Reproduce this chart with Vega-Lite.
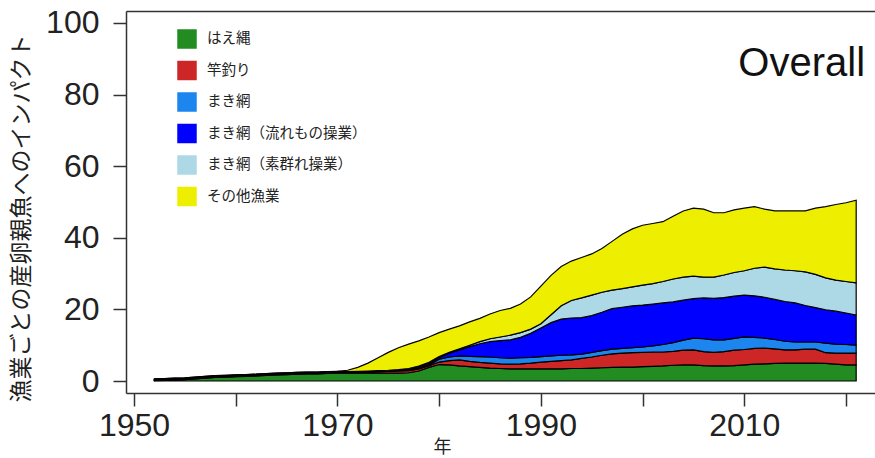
{
  "$schema": "https://vega.github.io/schema/vega-lite/v6.json",
  "width": 749,
  "height": 382,
  "autosize": "none",
  "padding": {"left": 126, "top": 11, "right": 0, "bottom": 65},
  "config": {"view": {"stroke": null}, "font": "Liberation Sans"},
  "resolve": {"axis": {"x": "independent"}},
  "layer": [
    {
      "data": {
        "values": [
          {"year": 1952, "g": 0.1, "r": 0.1, "m": 0.1, "d": 0.15, "l": 0.15, "y": 0},
          {"year": 1953, "g": 0.2, "r": 0.1, "m": 0.1, "d": 0.15, "l": 0.15, "y": 0},
          {"year": 1954, "g": 0.3, "r": 0.1, "m": 0.1, "d": 0.15, "l": 0.15, "y": 0},
          {"year": 1955, "g": 0.4, "r": 0.1, "m": 0.1, "d": 0.15, "l": 0.15, "y": 0},
          {"year": 1956, "g": 0.6, "r": 0.1, "m": 0.1, "d": 0.15, "l": 0.15, "y": 0},
          {"year": 1957, "g": 0.8, "r": 0.1, "m": 0.1, "d": 0.15, "l": 0.15, "y": 0},
          {"year": 1958, "g": 1.0, "r": 0.1, "m": 0.1, "d": 0.15, "l": 0.15, "y": 0},
          {"year": 1959, "g": 1.1, "r": 0.1, "m": 0.1, "d": 0.15, "l": 0.15, "y": 0},
          {"year": 1960, "g": 1.2, "r": 0.1, "m": 0.1, "d": 0.15, "l": 0.15, "y": 0},
          {"year": 1961, "g": 1.3, "r": 0.1, "m": 0.1, "d": 0.15, "l": 0.15, "y": 0},
          {"year": 1962, "g": 1.4, "r": 0.1, "m": 0.1, "d": 0.15, "l": 0.15, "y": 0},
          {"year": 1963, "g": 1.6, "r": 0.1, "m": 0.1, "d": 0.15, "l": 0.15, "y": 0},
          {"year": 1964, "g": 1.7, "r": 0.1, "m": 0.1, "d": 0.15, "l": 0.15, "y": 0},
          {"year": 1965, "g": 1.8, "r": 0.1, "m": 0.1, "d": 0.15, "l": 0.15, "y": 0},
          {"year": 1966, "g": 1.9, "r": 0.1, "m": 0.1, "d": 0.15, "l": 0.15, "y": 0},
          {"year": 1967, "g": 2.0, "r": 0.1, "m": 0.1, "d": 0.15, "l": 0.15, "y": 0},
          {"year": 1968, "g": 2.0, "r": 0.1, "m": 0.1, "d": 0.15, "l": 0.15, "y": 0},
          {"year": 1969, "g": 2.1, "r": 0.1, "m": 0.1, "d": 0.15, "l": 0.15, "y": 0},
          {"year": 1970, "g": 2.2, "r": 0.1, "m": 0.1, "d": 0.15, "l": 0.15, "y": 0},
          {"year": 1971, "g": 2.2, "r": 0.1, "m": 0.1, "d": 0.1, "l": 0.1, "y": 0.4},
          {"year": 1972, "g": 2.2, "r": 0.2, "m": 0.1, "d": 0.1, "l": 0.1, "y": 1.1},
          {"year": 1973, "g": 2.2, "r": 0.3, "m": 0.1, "d": 0.1, "l": 0.1, "y": 2.2},
          {"year": 1974, "g": 2.2, "r": 0.4, "m": 0.1, "d": 0.1, "l": 0.1, "y": 3.6},
          {"year": 1975, "g": 2.2, "r": 0.5, "m": 0.1, "d": 0.1, "l": 0.1, "y": 5.0},
          {"year": 1976, "g": 2.2, "r": 0.6, "m": 0.1, "d": 0.2, "l": 0.1, "y": 6.1},
          {"year": 1977, "g": 2.3, "r": 0.6, "m": 0.2, "d": 0.3, "l": 0.1, "y": 6.8},
          {"year": 1978, "g": 2.8, "r": 0.6, "m": 0.2, "d": 0.4, "l": 0.2, "y": 7.0},
          {"year": 1979, "g": 3.8, "r": 0.5, "m": 0.2, "d": 0.5, "l": 0.2, "y": 7.1},
          {"year": 1980, "g": 4.6, "r": 0.7, "m": 0.8, "d": 0.5, "l": 0.2, "y": 6.7},
          {"year": 1981, "g": 4.5, "r": 1.2, "m": 1.0, "d": 1.1, "l": 0.2, "y": 6.5},
          {"year": 1982, "g": 4.2, "r": 1.7, "m": 1.1, "d": 1.7, "l": 0.3, "y": 6.4},
          {"year": 1983, "g": 4.0, "r": 1.5, "m": 1.4, "d": 2.7, "l": 0.4, "y": 6.5},
          {"year": 1984, "g": 3.8, "r": 1.4, "m": 1.6, "d": 3.6, "l": 0.6, "y": 6.5},
          {"year": 1985, "g": 3.6, "r": 1.4, "m": 1.7, "d": 4.3, "l": 0.8, "y": 6.9},
          {"year": 1986, "g": 3.5, "r": 1.3, "m": 1.7, "d": 4.8, "l": 1.0, "y": 7.4},
          {"year": 1987, "g": 3.4, "r": 1.3, "m": 1.7, "d": 5.1, "l": 1.3, "y": 7.5},
          {"year": 1988, "g": 3.4, "r": 1.4, "m": 1.7, "d": 5.7, "l": 1.3, "y": 8.0},
          {"year": 1989, "g": 3.4, "r": 1.6, "m": 1.6, "d": 6.7, "l": 1.2, "y": 9.0},
          {"year": 1990, "g": 3.4, "r": 1.9, "m": 1.5, "d": 8.0, "l": 1.2, "y": 10.5},
          {"year": 1991, "g": 3.4, "r": 2.1, "m": 1.5, "d": 9.3, "l": 2.2, "y": 11.0},
          {"year": 1992, "g": 3.4, "r": 2.3, "m": 1.5, "d": 10.1, "l": 3.7, "y": 11.0},
          {"year": 1993, "g": 3.5, "r": 2.4, "m": 1.4, "d": 10.3, "l": 4.9, "y": 11.0},
          {"year": 1994, "g": 3.5, "r": 2.8, "m": 1.2, "d": 10.2, "l": 5.5, "y": 11.3},
          {"year": 1995, "g": 3.6, "r": 3.1, "m": 1.3, "d": 10.3, "l": 5.7, "y": 11.5},
          {"year": 1996, "g": 3.7, "r": 3.5, "m": 1.3, "d": 10.7, "l": 5.6, "y": 12.2},
          {"year": 1997, "g": 3.8, "r": 3.8, "m": 1.3, "d": 11.3, "l": 5.2, "y": 13.6},
          {"year": 1998, "g": 3.9, "r": 3.9, "m": 1.3, "d": 11.5, "l": 5.2, "y": 15.2},
          {"year": 1999, "g": 3.9, "r": 4.0, "m": 1.4, "d": 11.7, "l": 5.3, "y": 16.2},
          {"year": 2000, "g": 4.0, "r": 4.0, "m": 1.5, "d": 11.7, "l": 5.6, "y": 16.7},
          {"year": 2001, "g": 4.1, "r": 4.0, "m": 1.7, "d": 11.7, "l": 5.7, "y": 16.8},
          {"year": 2002, "g": 4.2, "r": 3.9, "m": 2.1, "d": 11.6, "l": 6.0, "y": 16.7},
          {"year": 2003, "g": 4.4, "r": 3.9, "m": 2.4, "d": 11.4, "l": 6.4, "y": 17.5},
          {"year": 2004, "g": 4.5, "r": 4.1, "m": 2.8, "d": 11.2, "l": 6.4, "y": 18.5},
          {"year": 2005, "g": 4.5, "r": 4.2, "m": 3.3, "d": 11.0, "l": 6.3, "y": 19.0},
          {"year": 2006, "g": 4.3, "r": 3.9, "m": 3.6, "d": 11.4, "l": 5.8, "y": 19.0},
          {"year": 2007, "g": 4.2, "r": 3.8, "m": 3.5, "d": 11.6, "l": 5.9, "y": 18.0},
          {"year": 2008, "g": 4.2, "r": 4.0, "m": 3.3, "d": 11.8, "l": 6.3, "y": 17.4},
          {"year": 2009, "g": 4.3, "r": 4.3, "m": 3.3, "d": 11.8, "l": 6.6, "y": 17.5},
          {"year": 2010, "g": 4.5, "r": 4.3, "m": 3.5, "d": 11.7, "l": 6.8, "y": 17.5},
          {"year": 2011, "g": 4.7, "r": 4.4, "m": 3.1, "d": 11.6, "l": 7.7, "y": 17.2},
          {"year": 2012, "g": 4.8, "r": 4.4, "m": 2.8, "d": 11.4, "l": 8.4, "y": 16.2},
          {"year": 2013, "g": 4.9, "r": 4.1, "m": 2.6, "d": 11.2, "l": 8.5, "y": 16.2},
          {"year": 2014, "g": 5.0, "r": 3.7, "m": 2.4, "d": 11.1, "l": 8.8, "y": 16.5},
          {"year": 2015, "g": 5.0, "r": 3.7, "m": 2.2, "d": 10.9, "l": 9.0, "y": 16.7},
          {"year": 2016, "g": 5.0, "r": 3.9, "m": 2.0, "d": 10.2, "l": 9.4, "y": 17.0},
          {"year": 2017, "g": 5.0, "r": 3.9, "m": 2.0, "d": 9.6, "l": 9.3, "y": 18.5},
          {"year": 2018, "g": 4.9, "r": 3.0, "m": 2.7, "d": 9.3, "l": 8.9, "y": 19.9},
          {"year": 2019, "g": 4.7, "r": 3.1, "m": 2.5, "d": 9.2, "l": 8.7, "y": 21.1},
          {"year": 2020, "g": 4.5, "r": 3.3, "m": 2.4, "d": 8.8, "l": 8.8, "y": 22.0},
          {"year": 2021, "g": 4.5, "r": 3.3, "m": 2.2, "d": 8.4, "l": 9.0, "y": 23.1}
        ]
      },
      "transform": [
        {"fold": ["g", "r", "m", "d", "l", "y"], "as": ["key", "value"]},
        {
          "lookup": "key",
          "from": {
            "data": {
              "values": [
                {"key": "g", "label": "はえ縄", "rank": 1},
                {"key": "r", "label": "竿釣り", "rank": 2},
                {"key": "m", "label": "まき網", "rank": 3},
                {"key": "d", "label": "まき網（流れもの操業）", "rank": 4},
                {"key": "l", "label": "まき網（素群れ操業）", "rank": 5},
                {"key": "y", "label": "その他漁業", "rank": 6}
              ]
            },
            "key": "key",
            "fields": ["label", "rank"]
          }
        }
      ],
      "mark": {"type": "area", "interpolate": "linear", "stroke": "black", "strokeWidth": 1.2, "opacity": 1},
      "encoding": {
        "x": {
          "field": "year",
          "type": "quantitative",
          "scale": {"domain": [1949.213, 2022.85], "nice": false, "zero": false},
          "axis": {
            "values": [1950, 1960, 1970, 1980, 1990, 2000, 2010, 2020],
            "format": "d",
            "labelExpr": "datum.value % 20 == 10 ? datum.label : ''",
            "labelFlush": false,
            "labelOverlap": false,
            "labelFontSize": 32,
            "labelColor": "#222",
            "labelPadding": 4,
            "tickSize": 13,
            "tickWidth": 1.5,
            "tickColor": "#333",
            "domainColor": "#333",
            "domainWidth": 1.5,
            "grid": false,
            "title": "年",
            "titleFont": "Noto Sans CJK JP",
            "titleFontSize": 18,
            "titleFontWeight": "normal",
            "titleColor": "#222",
            "titleX": 316,
            "titleY": 45,
            "titleBaseline": "top"
          }
        },
        "y": {
          "field": "value",
          "type": "quantitative",
          "stack": "zero",
          "title": "漁業ごとの産卵親魚へのインパクト",
          "scale": {"domain": [-3.35, 103.35], "nice": false, "zero": false},
          "axis": {
            "values": [0, 20, 40, 60, 80, 100],
            "labelFlush": false,
            "labelOverlap": false,
            "labelFontSize": 32,
            "labelColor": "#222",
            "labelPadding": 14,
            "tickSize": 13,
            "tickWidth": 1.5,
            "tickColor": "#333",
            "domainColor": "#333",
            "domainWidth": 1.5,
            "grid": false,
            "titleFont": "Noto Sans CJK JP",
            "titleFontSize": 23,
            "titleFontWeight": "normal",
            "titleColor": "#222",
            "titleAngle": 270,
            "titleAlign": "center",
            "titleBaseline": "middle",
            "titleX": -105,
            "titleY": 207
          }
        },
        "color": {
          "field": "label",
          "type": "nominal",
          "scale": {
            "domain": ["はえ縄", "竿釣り", "まき網", "まき網（流れもの操業）", "まき網（素群れ操業）", "その他漁業"],
            "range": ["#228B22", "#CD2626", "#1C86EE", "#0000FF", "#ADD8E6", "#EEEE00"]
          },
          "legend": {
            "orient": "none",
            "legendX": 51,
            "legendY": 18,
            "title": null,
            "symbolType": "square",
            "symbolSize": 380,
            "symbolStrokeWidth": 0,
            "symbolOpacity": 1,
            "labelFont": "Noto Sans CJK JP",
            "labelFontSize": 14.5,
            "labelColor": "#222",
            "labelOffset": 10,
            "rowPadding": 11.5
          }
        },
        "order": {"field": "rank", "type": "quantitative"}
      }
    },
    {
      "data": {"values": [{"panel": "Overall"}]},
      "mark": {"type": "text", "align": "right", "baseline": "alphabetic", "fontSize": 40, "font": "Liberation Sans", "color": "#111"},
      "encoding": {
        "x": {
          "datum": 2021.87,
          "type": "quantitative",
          "axis": {"orient": "top", "labels": false, "ticks": false, "title": null, "grid": false, "domain": true, "domainColor": "#333", "domainWidth": 1.5}
        },
        "y": {"datum": 85.1, "type": "quantitative"},
        "text": {"field": "panel", "type": "nominal"}
      }
    }
  ]
}
